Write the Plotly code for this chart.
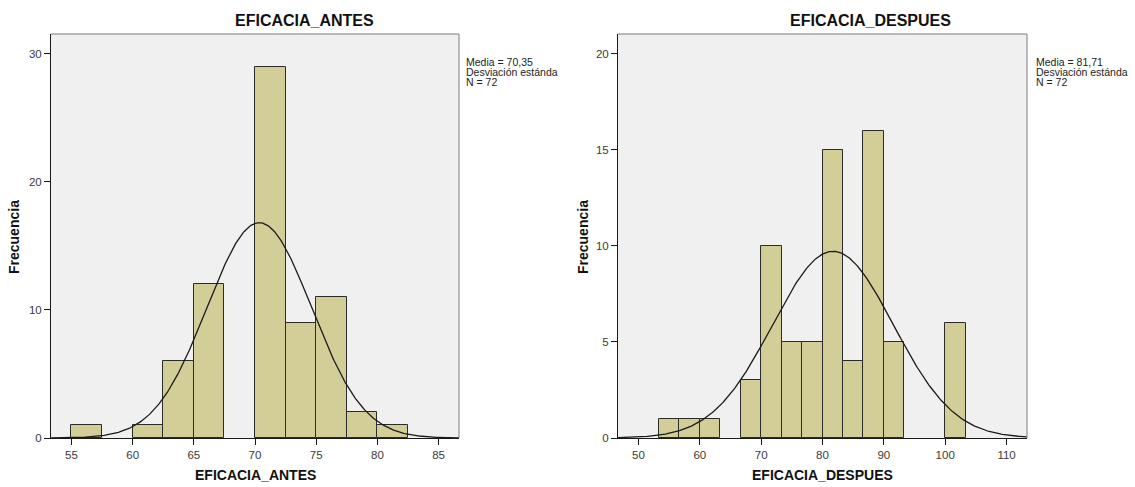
import numpy as np
import plotly.graph_objects as go

# Histogram of EFICACIA_ANTES: bin start, bin width, frequencies
antes_start = 55.0
antes_width = 2.5
antes_counts = [1, 0, 1, 6, 12, 0, 29, 9, 11, 2, 1]
antes_mean = 70.35
antes_sd = 4.27
antes_n = 72
antes_xticks = [55, 60, 65, 70, 75, 80, 85]
antes_yticks = [0, 10, 20, 30]

# Histogram of EFICACIA_DESPUES
despues_start = 160 / 3
despues_width = 10 / 3
despues_counts = [1, 1, 1, 0, 3, 10, 5, 5, 15, 4, 16, 5, 0, 0, 6]
despues_mean = 81.71
despues_sd = 9.85
despues_n = 72
despues_xticks = [50, 60, 70, 80, 90, 100, 110]
despues_yticks = [0, 5, 10, 15, 20]

W, H = 1135, 487
H_VIEW = 481  # usable page height used for placing items in paper coordinates
BAR_FILL = "#D3CE97"
BAR_EDGE = "#2b2b2b"
PLOT_BG = "#F0F0F0"
FONT = "Liberation Sans, Arial, sans-serif"

fig = go.Figure()


def add_panel(idx, start, width, counts, mean, sd, n, xr):
    xa = "x" if idx == 1 else "x2"
    ya = "y" if idx == 1 else "y2"
    centers = [start + width * (i + 0.5) for i in range(len(counts))]
    # empty bins are left undrawn
    bx = [c for c, k in zip(centers, counts) if k > 0]
    by = [k for k in counts if k > 0]
    fig.add_trace(go.Bar(
        x=bx, y=by, width=width,
        marker=dict(color=BAR_FILL, line=dict(color=BAR_EDGE, width=1)),
        xaxis=xa, yaxis=ya, showlegend=False, hoverinfo="x+y",
    ))
    xs = np.linspace(xr[0], xr[1], 400)
    ys = n * width * np.exp(-0.5 * ((xs - mean) / sd) ** 2) / (sd * np.sqrt(2 * np.pi))
    fig.add_trace(go.Scatter(
        x=xs, y=ys, mode="lines", line=dict(color="#1a1a1a", width=1.3),
        xaxis=xa, yaxis=ya, showlegend=False, hoverinfo="skip",
    ))


add_panel(1, antes_start, antes_width, antes_counts, antes_mean, antes_sd, antes_n,
          (53.33, 86.67))
add_panel(2, despues_start, despues_width, despues_counts, despues_mean, despues_sd,
          despues_n, (46.67, 113.33))


def py(pix):
    return 1 - pix / H_VIEW


def px(pix):
    return pix / W


axis_common = dict(
    showgrid=False, zeroline=False, showline=True, linecolor="#1a1a1a", linewidth=1,
    ticks="outside", ticklen=6, tickcolor="#1a1a1a", tickwidth=1,
    tickfont=dict(family=FONT, size=11.5, color="#3a3a3a"), fixedrange=True,
)

ydom = [py(438), py(34)]
fig.update_layout(
    width=W, height=H, margin=dict(l=0, r=0, t=0, b=0),
    paper_bgcolor="white", plot_bgcolor=PLOT_BG, bargap=0,
    xaxis=dict(domain=[px(51), px(459)], range=[53.33, 86.67], anchor="y",
               tickvals=antes_xticks, **axis_common),
    yaxis=dict(domain=ydom, range=[0, 31.56], anchor="x",
               tickvals=antes_yticks, **axis_common),
    xaxis2=dict(domain=[px(618), px(1027)], range=[46.67, 113.33], anchor="y2",
                tickvals=despues_xticks, **axis_common),
    yaxis2=dict(domain=ydom, range=[0, 21.04], anchor="x2",
                tickvals=despues_yticks, **axis_common),
)

# gray frame on the top and right of each plot area
for xr_, yr_ in (("x domain", "y domain"), ("x2 domain", "y2 domain")):
    fig.add_shape(type="line", xref=xr_, yref=yr_, x0=0, x1=1, y0=1, y1=1,
                  line=dict(color="#7a7a7a", width=1))
    fig.add_shape(type="line", xref=xr_, yref=yr_, x0=1, x1=1, y0=0, y1=1,
                  line=dict(color="#7a7a7a", width=1))

annotations = []


def text(x, y, s, size, bold=False, angle=0, xanchor="center", yanchor="middle"):
    annotations.append(dict(
        x=px(x), y=py(y), xref="paper", yref="paper", text=f"<b>{s}</b>" if bold else s,
        showarrow=False, textangle=angle, xanchor=xanchor, yanchor=yanchor,
        font=dict(family=FONT, size=size, color="#111111"),
    ))


# chart titles
text(304, 21, "EFICACIA_ANTES", 16, bold=True)
text(870, 21, "EFICACIA_DESPUES", 16, bold=True)
# axis titles
text(255, 475, "EFICACIA_ANTES", 14, bold=True)
text(822, 475, "EFICACIA_DESPUES", 14, bold=True)
text(14, 237, "Frecuencia", 14, bold=True, angle=-90)
text(583, 237, "Frecuencia", 14, bold=True, angle=-90)

# summary statistics beside each panel
for x0, mean, n in ((464, antes_mean, antes_n), (1034, despues_mean, despues_n)):
    lines = [f"Media = {mean:.2f}".replace(".", ","), "Desviación estánda", f"N = {n}"]
    for i, s in enumerate(lines):
        annotations.append(dict(
            x=px(x0), y=py(62 + 10 * i), xref="paper", yref="paper", text=s,
            showarrow=False, xanchor="left", yanchor="middle",
            font=dict(family=FONT, size=10.5, color="#222222"),
        ))

fig.update_layout(annotations=annotations)
fig.write_html("out.html")
